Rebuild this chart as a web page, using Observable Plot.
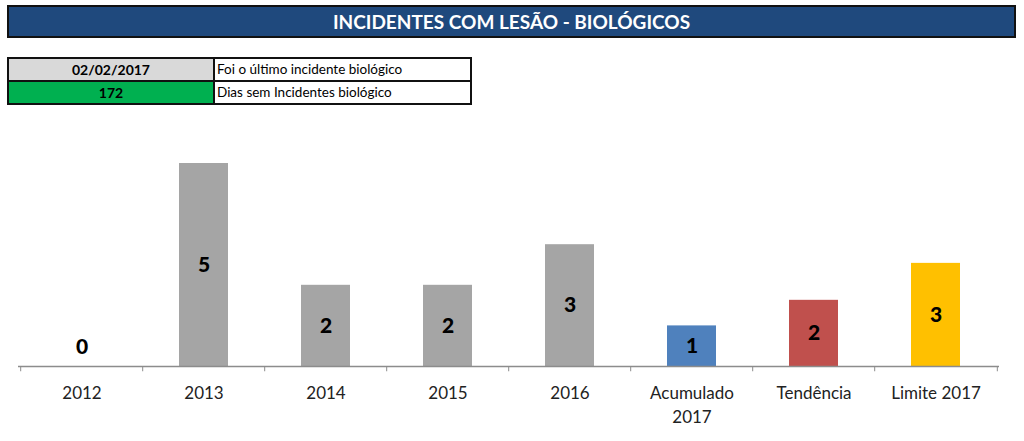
<!DOCTYPE html>
<html>
<head>
<meta charset="utf-8">
<script src="https://cdn.jsdelivr.net/npm/d3@7"></script>
<script src="https://cdn.jsdelivr.net/npm/@observablehq/plot@0.6"></script>
<style>
  html, body { margin: 0; padding: 0; background: #fff; width: 1024px; height: 441px; overflow: hidden; font-family: Lato, "Open Sans", sans-serif; }
  #title { position: absolute; left: 7px; top: 5px; width: 1005px; height: 29px; background: #1F497D; border: 2px solid #111; color: #fff; font-weight: bold; font-size: 19px; line-height: 29px; text-align: center; }
  #info { position: absolute; left: 7px; top: 57px; border-collapse: collapse; }
  #info td { border: 2px solid #111; height: 21px; padding: 0 2px; font-size: 13.5px; line-height: 21px; }
  #info td.k { width: 200px; text-align: center; font-weight: bold; font-size: 14px; }
  #info td.v { width: 251px; }
  #chart { position: absolute; left: 0; top: 110px; }
</style>
</head>
<body>
<div id="title">INCIDENTES COM LESÃO - BIOLÓGICOS</div>
<table id="info">
  <tr><td class="k" style="background:#D9D9D9">02/02/2017</td><td class="v">Foi o último incidente biológico</td></tr>
  <tr><td class="k" style="background:#00B050">172</td><td class="v">Dias sem Incidentes biológico</td></tr>
</table>
<div id="chart"></div>
<script>
const categories = ["2012", "2013", "2014", "2015", "2016", "Acumulado\n2017", "Tendência", "Limite 2017"];
const values = [0, 5, 2, 2, 3, 1, 1.63, 2.54];
const colors = ["#A5A5A5", "#A5A5A5", "#A5A5A5", "#A5A5A5", "#A5A5A5", "#4F81BD", "#C0504D", "#FFC000"];

const data = categories.map((c, i) => ({cat: c, v: values[i], color: colors[i]}));

const W = 1024, H = 331, mL = 18, mR = 25;
const step = (W - mL - mR) / categories.length;

const chart = Plot.plot({
  width: W,
  height: H,
  marginLeft: mL,
  marginRight: mR,
  marginTop: 53,
  marginBottom: 75,
  style: {fontFamily: "Lato, 'Open Sans', sans-serif", background: "transparent"},
  x: {domain: categories, paddingInner: 0.6, paddingOuter: 0.3, label: null},
  y: {domain: [0, 5], axis: null},
  marks: [
    Plot.barY(data, {x: "cat", y: "v", fill: "color"}),
    Plot.ruleY([0], {stroke: "#8c8c8c", strokeWidth: 1.3}),
    Plot.ruleX(categories, {x: d => d, y1: 0, y2: -0.13, dx: -step / 2, stroke: "#8c8c8c"}),
    Plot.ruleX([categories[categories.length - 1]], {x: d => d, y1: 0, y2: -0.13, dx: step / 2, stroke: "#8c8c8c"}),
    Plot.text(data.filter(d => d.v > 0), {x: "cat", y: d => d.v / 2, text: d => d3.format(".0f")(d.v), fontSize: 21, fontWeight: 900, fill: "#000"}),
    Plot.text(data.filter(d => d.v === 0), {x: "cat", y: "v", text: d => String(d.v), dy: -19, fontSize: 21, fontWeight: 900, fill: "#000"}),
    Plot.axisX({tickSize: 0, tickPadding: 16, fontSize: 17, lineHeight: 1.4, lineAnchor: "top", fill: "#222", label: null})
  ]
});
document.getElementById("chart").appendChild(chart);
</script>
</body>
</html>
